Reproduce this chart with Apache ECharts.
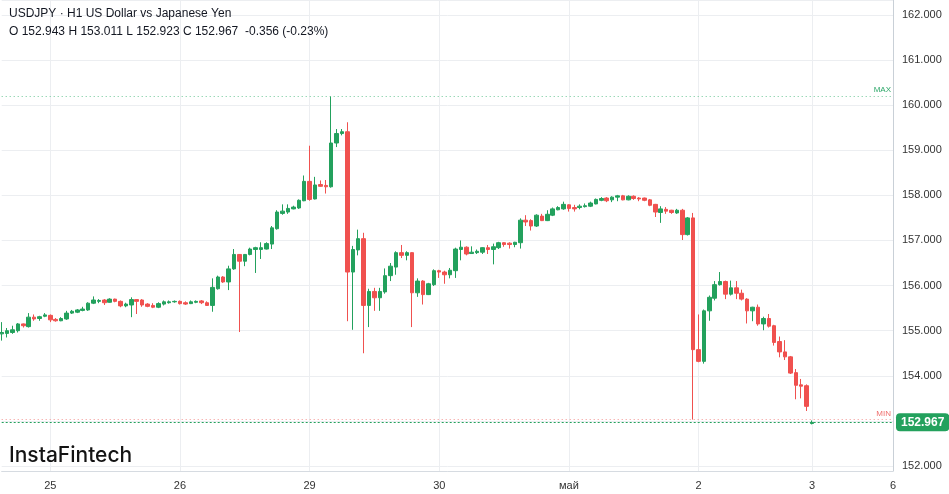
<!DOCTYPE html>
<html><head><meta charset="utf-8">
<script src="https://cdn.jsdelivr.net/npm/echarts@6/dist/echarts.min.js"></script>
<style>html,body{margin:0;padding:0;background:#fff}#c{width:949px;height:494px}</style>
</head><body><div id="c"></div>
<script>
// hourly candles, USDJPY H1
const openV = [154.93,154.94,154.96,155.00,155.15,155.09,155.30,155.27,155.32,155.34,
155.25,155.22,155.26,155.39,155.41,155.45,155.46,155.61,155.65,155.68,
155.63,155.70,155.65,155.55,155.57,155.69,155.68,155.59,155.56,155.52,
155.59,155.62,155.64,155.65,155.62,155.60,155.63,155.66,155.62,155.56,
155.93,156.19,156.08,156.37,156.69,156.54,156.69,156.80,156.80,156.81,
156.92,157.26,157.60,157.63,157.70,157.72,157.88,158.31,157.92,158.24,
158.22,158.19,159.16,159.37,159.41,156.30,156.79,157.04,155.56,155.87,
155.73,155.86,156.22,156.41,156.73,156.67,156.73,155.84,156.10,155.80,
156.02,156.33,156.30,156.24,156.33,156.80,156.85,156.71,156.73,156.74,
156.84,156.80,156.84,156.95,156.94,156.91,156.95,157.45,157.44,157.32,
157.54,157.44,157.56,157.68,157.70,157.79,157.73,157.73,157.75,157.76,
157.81,157.89,157.94,157.90,157.96,157.99,157.90,157.98,157.94,157.94,
157.90,157.80,157.62,157.69,157.67,157.61,157.67,157.13,157.50,154.58,
154.32,155.44,155.72,156.02,156.09,155.81,155.95,155.83,155.70,155.44,
155.52,155.15,155.27,155.11,154.76,154.53,154.42,154.07,153.80,153.78,
152.943];
const closeV = [154.96,155.00,155.02,155.15,155.11,155.30,155.26,155.31,155.35,155.24,
155.22,155.27,155.39,155.43,155.46,155.48,155.61,155.68,155.67,155.62,
155.70,155.65,155.55,155.59,155.69,155.65,155.57,155.54,155.52,155.60,
155.64,155.64,155.65,155.60,155.59,155.64,155.65,155.62,155.56,155.96,
156.19,156.08,156.37,156.69,156.54,156.69,156.81,156.84,156.84,156.93,
157.28,157.63,157.65,157.71,157.74,157.89,158.31,157.91,158.23,158.20,
158.19,159.16,159.37,159.41,156.30,156.80,157.04,155.56,155.87,155.73,
155.87,156.22,156.43,156.73,156.67,156.73,155.84,156.10,155.80,156.04,
156.33,156.30,156.24,156.34,156.81,156.85,156.70,156.74,156.76,156.84,
156.80,156.86,156.95,156.91,156.91,156.96,157.45,157.41,157.32,157.56,
157.44,157.58,157.70,157.73,157.80,157.71,157.70,157.76,157.77,157.83,
157.91,157.93,157.88,157.96,157.99,157.90,157.98,157.93,157.92,157.89,
157.78,157.63,157.70,157.65,157.62,157.67,157.13,157.50,154.58,154.32,
155.44,155.74,156.02,156.09,155.81,155.95,155.83,155.70,155.44,155.52,
155.15,155.27,155.10,154.74,154.53,154.42,154.06,153.79,153.77,153.323,
152.967];
const lowV = [154.78,154.85,154.93,154.96,155.07,155.07,155.22,155.22,155.30,155.19,
155.20,155.21,155.24,155.37,155.39,155.43,155.44,155.59,155.61,155.57,
155.62,155.63,155.52,155.52,155.30,155.37,155.53,155.52,155.50,155.50,
155.56,155.60,155.62,155.58,155.57,155.59,155.61,155.59,155.55,155.42,
155.91,156.06,155.90,156.35,154.97,156.43,156.67,156.28,156.59,156.80,
156.81,157.24,157.57,157.59,157.69,157.70,157.87,157.88,157.91,158.19,
158.04,158.17,159.07,159.33,155.21,155.02,156.67,154.50,155.08,155.44,
155.44,155.82,156.10,156.24,156.61,156.56,155.08,155.75,155.58,155.79,
155.99,156.17,156.04,156.16,156.17,156.56,156.67,156.70,156.70,156.70,
156.70,156.47,156.81,156.86,156.82,156.85,156.82,157.32,157.22,157.30,
157.43,157.43,157.54,157.67,157.68,157.64,157.64,157.69,157.73,157.74,
157.80,157.87,157.85,157.85,157.87,157.89,157.89,157.90,157.87,157.87,
157.76,157.52,157.39,157.59,157.59,157.59,157.01,157.11,153.03,154.30,
154.27,155.22,155.67,156.00,155.70,155.78,155.70,155.67,155.16,155.21,
155.11,155.01,155.07,154.67,154.41,154.35,154.04,153.48,153.50,153.22,
152.923];
const highV = [155.19,155.06,155.11,155.17,155.16,155.39,155.36,155.33,155.39,155.36,
155.28,155.30,155.44,155.46,155.48,155.53,155.63,155.76,155.70,155.70,
155.72,155.71,155.67,155.62,155.74,155.70,155.70,155.61,155.61,155.63,
155.67,155.67,155.67,155.67,155.65,155.67,155.67,155.68,155.65,156.16,
156.22,156.21,156.44,156.81,156.70,156.70,156.84,156.86,156.96,156.96,
157.32,157.67,157.80,157.80,157.77,157.91,158.44,159.10,158.41,158.33,
158.34,160.20,159.47,159.47,159.62,156.88,157.24,157.17,155.93,155.95,
155.95,156.38,156.50,156.76,156.90,156.76,156.74,156.16,156.12,156.06,
156.36,156.35,156.33,156.39,156.84,157.00,156.87,156.87,156.80,156.85,
156.90,156.93,156.97,156.96,156.96,156.97,157.49,157.56,157.47,157.58,
157.59,157.67,157.73,157.76,157.86,157.80,157.79,157.80,157.82,157.86,
157.93,157.96,157.96,157.98,158.01,158.01,158.00,158.00,157.96,157.95,
157.92,157.81,157.76,157.74,157.68,157.70,157.70,157.52,157.61,155.36,
155.47,155.78,156.10,156.30,156.11,156.11,156.10,155.91,155.72,155.53,
155.58,155.31,155.37,155.13,154.87,154.79,154.44,154.15,153.93,153.81,
153.011];

const slotCount = 166;                       // hourly slots shown on the time axis
const tickIndex = [9, 33, 57, 81, 105, 129, 150, 165];
const tickLabels = ['25', '26', '29', '30', 'май', '2', '3', '6'];
const headline = 'USDJPY · H1 US Dollar vs Japanese Yen';
const brand = 'InstaFintech';

const UP = '#23a15d', DOWN = '#f0514f';
const categories = Array.from({length: slotCount}, (_, i) => 'h' + i);
const candles = openV.map((o, i) => [o, closeV[i], lowV[i], highV[i]]);
const n = closeV.length;
const lastO = openV[n-1], lastH = highV[n-1], lastL = lowV[n-1], lastC = closeV[n-1];
const chg = lastC - closeV[n-2];
const chgPct = chg / closeV[n-2] * 100;
const ohlcLine = 'O ' + lastO.toFixed(3) + ' H ' + lastH.toFixed(3) + ' L ' + lastL.toFixed(3) +
  ' C ' + lastC.toFixed(3) + '  ' + chg.toFixed(3) + ' (' + chgPct.toFixed(2) + '%)';
const maxHigh = Math.max(...highV);
const minLow = Math.min(...lowV.slice(0, n-1));
const isTick = (idx) => tickIndex.indexOf(idx) >= 0;
const FONT = '"Liberation Sans", Arial, sans-serif';

const chart = echarts.init(document.getElementById('c'), null, {renderer: 'canvas'});
chart.setOption({
  animation: false,
  backgroundColor: '#ffffff',
  title: [
    {text: headline, left: 9, top: 8, padding: 0,
     textStyle: {fontSize: 12, fontWeight: 'normal', color: '#131722', fontFamily: FONT}},
    {text: ohlcLine, left: 9, top: 26, padding: 0,
     textStyle: {fontSize: 12, fontWeight: 'normal', color: '#131722', fontFamily: FONT}}
  ],
  graphic: [{
    type: 'text', left: 9, top: 445, z: 100,
    style: {text: brand, fontSize: 21, fontWeight: 500, fontFamily: 'Inter, "Noto Sans", sans-serif', fill: '#131313'}
  }],
  grid: {left: 1.7, right: 56, top: 0, bottom: 23},
  xAxis: {
    type: 'category', data: categories, boundaryGap: false,
    axisLine: {show: true, lineStyle: {color: '#d6dbe1'}},
    axisTick: {show: false},
    axisLabel: {
      interval: (idx) => isTick(idx),
      formatter: (v, idx) => tickLabels[tickIndex.indexOf(idx)] || '',
      color: '#333', fontSize: 11, fontFamily: FONT, margin: 9
    },
    splitLine: {show: true, interval: (idx) => isTick(idx), lineStyle: {color: '#eceef1', width: 1}}
  },
  yAxis: {
    type: 'value', position: 'right', scale: true,
    min: 151.89, max: 162.33, splitNumber: 10,
    axisLine: {show: true, lineStyle: {color: '#c9d0d7'}},
    axisTick: {show: false},
    axisLabel: {
      showMinLabel: false, showMaxLabel: false,
      formatter: (v) => v.toFixed(3), color: '#333', fontSize: 11, fontFamily: FONT, margin: 9
    },
    splitLine: {show: true, lineStyle: {color: '#eceef1', width: 1}}
  },
  series: [{
    type: 'candlestick',
    data: candles,
    barWidth: 4,
    clip: false,
    itemStyle: {color: UP, color0: DOWN, borderColor: UP, borderColor0: DOWN, borderWidth: 1},
    markLine: {
      silent: true, symbol: ['none', 'none'], animation: false,
      data: [
        {yAxis: maxHigh, lineStyle: {color: '#6cc796', type: [1, 3], width: 1},
         label: {position: 'insideEndTop', formatter: 'MAX', color: '#2ea86a', fontSize: 8, fontFamily: FONT, distance: 2}},
        {yAxis: minLow, lineStyle: {color: '#f39593', type: [1, 3], width: 1},
         label: {position: 'insideEndTop', formatter: 'MIN', color: '#ef6f6d', fontSize: 8, fontFamily: FONT, distance: 2}},
        {yAxis: lastC, lineStyle: {color: UP, type: [2, 2], width: 1},
         label: {position: 'end', formatter: lastC.toFixed(3), color: '#fff', backgroundColor: UP,
                 borderRadius: 4, padding: [3, 5, 3, 5], fontSize: 12, fontWeight: 'bold', fontFamily: FONT, distance: 3}}
      ]
    }
  }]
});
</script></body></html>
